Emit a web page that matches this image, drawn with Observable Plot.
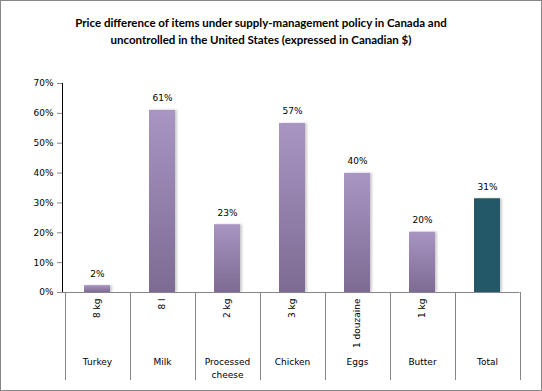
<!DOCTYPE html>
<html>
<head>
<meta charset="utf-8">
<script src="https://cdn.jsdelivr.net/npm/d3@7"></script>
<script src="https://cdn.jsdelivr.net/npm/@observablehq/plot@0.6"></script>
<style>
  html, body { margin: 0; padding: 0; background: #fff; }
  #wrap { width: 542px; height: 391px; box-sizing: border-box; border: 1px solid #878787; background: #fff; overflow: hidden; }
  #title { height: 60px; box-sizing: border-box; padding-top: 14px; padding-right: 20px; text-align: center;
           font-family: Lato, "Open Sans", sans-serif; font-weight: bold; font-size: 11.5px; line-height: 16.5px; color: #000; }
  svg { display: block; }
</style>
</head>
<body>
<div id="wrap">
  <div id="title">Price difference of items under supply-management policy in Canada and<br>uncontrolled in the United States (expressed in Canadian $)</div>
  <div id="chart"></div>
</div>
<script>
const categories = ["Turkey", "Milk", "Processed\ncheese", "Chicken", "Eggs", "Butter", "Total"];
const units = ["8 kg", "8 l", "2 kg", "3 kg", "1 douzaine", "1 kg", ""];
const values = [0.023, 0.61, 0.227, 0.566, 0.399, 0.202, 0.314];
const yTicks = [0, 0.1, 0.2, 0.3, 0.4, 0.5, 0.6, 0.7];

const data = categories.map((c, i) => ({category: c, unit: units[i], value: values[i]}));
const pct = d3.format(".0%");

const font = "DejaVu Sans, Verdana, sans-serif";
const W = 540, H = 329, mL = 61, mR = 19, mT = 22, mB = 98;

const chart = Plot.plot({
  width: W,
  height: H,
  marginLeft: mL,
  marginRight: mR,
  marginTop: mT,
  marginBottom: mB,
  style: {fontFamily: font, fontSize: "9px", color: "#000", background: "#fff", overflow: "visible"},
  x: {domain: categories, paddingInner: 0.6, paddingOuter: 0.3, axis: null},
  y: {domain: [0, 0.7], ticks: yTicks, tickFormat: d3.format(".0%"), tickSize: 5, tickPadding: 4, line: true, label: null},
  marks: [
    Plot.barY(data.filter(d => d.category !== "Total"), {x: "category", y: "value", fill: "url(#purpleGrad)"}),
    Plot.barY(data.filter(d => d.category === "Total"), {x: "category", y: "value", fill: "#215968"}),
    Plot.text(data, {x: "category", y: "value", text: d => pct(d.value), dy: -12, fill: "#000"}),
    Plot.text(data, {x: "category", y: () => 0, text: "unit", rotate: -90, textAnchor: "end", dy: 6, fill: "#000"}),
    Plot.text(data, {x: "category", y: () => 0, text: "category", lineAnchor: "top", lineHeight: 1.45, dy: 63, fill: "#000"})
  ]
});

document.getElementById("chart").appendChild(chart);

const svg = d3.select(chart);
// gradient + shadow definitions
const defs = svg.insert("defs", ":first-child");
const g = defs.append("linearGradient").attr("id", "purpleGrad").attr("x1", 0).attr("y1", 0).attr("x2", 0).attr("y2", 1);
g.append("stop").attr("offset", "0%").attr("stop-color", "#a895c3");
g.append("stop").attr("offset", "100%").attr("stop-color", "#7d6b93");
const f = defs.append("filter").attr("id", "barShadow").attr("x", "-20%").attr("y", "-5%").attr("width", "150%").attr("height", "110%");
f.append("feDropShadow").attr("dx", 2).attr("dy", 0).attr("stdDeviation", 1.2).attr("flood-color", "#000").attr("flood-opacity", 0.2);
svg.selectAll("g[aria-label='bar'] rect").attr("filter", "url(#barShadow)");

// axis colours
svg.selectAll("g[aria-label='y-axis'] path, g[aria-label='y-axis'] line, g[aria-label='y-axis tick'] path, g[aria-label='y-axis tick'] line").attr("stroke", "#868686");
svg.selectAll("g[aria-label='y-axis'] text, g[aria-label='y-axis tick label'] text").attr("fill", "#000");

// category separators and x axis line, positioned with Plot's x scale
const xs = chart.scale("x");
const ys = chart.scale("y");
const step = xs.step;
const y0 = ys.apply(0);
const sep = svg.append("g").attr("stroke", "#868686").attr("stroke-width", 1);
const x0 = xs.apply(categories[0]) - step * xs.paddingOuter;
sep.append("line").attr("x1", x0 - 5).attr("x2", x0 + step * categories.length).attr("y1", y0 + 0.5).attr("y2", y0 + 0.5);
for (let i = 0; i <= categories.length; i++) {
  const xv = Math.round(x0 + i * step) + 0.5;
  sep.append("line").attr("x1", xv).attr("x2", xv).attr("y1", y0).attr("y2", H - 10);
}
</script>
</body>
</html>
